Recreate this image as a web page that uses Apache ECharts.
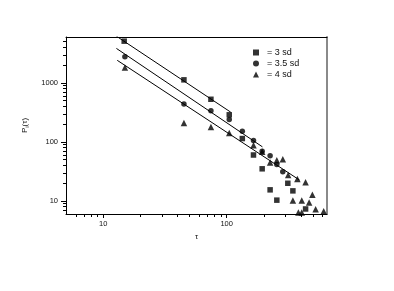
<!DOCTYPE html>
<html><head><meta charset="utf-8">
<script src="https://cdn.jsdelivr.net/npm/echarts@6/dist/echarts.min.js"></script>
<style>html,body{margin:0;padding:0;background:#fff}#c{width:394px;height:291px}</style>
</head><body><div id="c"></div>
<script>
// Axis ticks
const xTickLabels = [10, 100];
const yTickLabels = [10, 100, 1000];
const xMinorTicks = [6, 7, 8, 9, 20, 30, 40, 50, 60, 70, 80, 90, 200, 300, 400, 500, 600];
const yMinorTicks = [7, 8, 9, 20, 30, 40, 50, 60, 70, 80, 90, 200, 300, 400, 500, 600, 700, 800, 900, 2000, 3000, 4000, 5000];
const seriesNames = ['= 3 sd', '= 3.5 sd', '= 4 sd'];

// 3 sd (squares)
const sd3_tau = [14.8, 45.1, 74.6, 105, 134, 165, 194, 225, 255, 313, 344, 436];
const sd3_P   = [5100, 1127, 528, 288, 114, 60, 35, 15.4, 10.3, 19.9, 14.8, 7.3];
// 3.5 sd (circles)
const sd35_tau = [15.0, 45.1, 74.6, 105, 134, 165, 194, 225, 255, 285];
const sd35_P   = [2786, 440, 336, 240, 151, 106, 69.5, 58.2, 41.5, 31.3];
// 4 sd (triangles)
const sd4_tau = [15.0, 45.1, 74.6, 105, 165, 194, 225, 255, 285, 315, 374, 436, 495, 344, 406, 466, 526, 381, 406, 611];
const sd4_P   = [1820, 209, 179, 142, 87.7, 68, 44.9, 49.1, 51, 27.5, 23.5, 20.7, 12.7, 10.2, 10.2, 9.4, 7.2, 6.36, 6.36, 6.65];

// fitted power-law lines (end points)
const fit3_tau = [12.8, 108],  fit3_P = [6200, 319];
const fit35_tau = [12.8, 195], fit35_P = [3846, 82.4];
const fit4_tau = [13.0, 389],  fit4_P = [2415, 22.6];

const X_MIN = 5, X_MAX = 650, Y_MIN = 6, Y_MAX = 6000;

const zip = (a, b) => a.map((v, i) => [v, b[i]]);
const font = 'Liberation Sans, Arial, sans-serif';
const black = '#000';

const chart = echarts.init(document.getElementById('c'), null, {renderer: 'canvas'});
const baseX = {type: 'log', min: X_MIN, max: X_MAX, splitLine: {show: false}};
const baseY = {type: 'log', min: Y_MIN, max: Y_MAX, splitLine: {show: false}};

chart.setOption({
  animation: false,
  backgroundColor: '#fff',
  grid: {left: 66, top: 37, right: 67, bottom: 77, containLabel: false},
  legend: {
    orient: 'vertical', left: 248, top: 43, itemWidth: 6, itemHeight: 6, itemGap: 2,
    data: seriesNames,
    textStyle: {fontSize: 9, fontFamily: font, color: '#111', padding: [0, 0, 0, 3]}
  },
  xAxis: [
    Object.assign({}, baseX, {
      position: 'bottom', name: 'τ', nameLocation: 'middle', nameGap: 17,
      nameTextStyle: {fontSize: 8, fontFamily: font, color: '#111'},
      axisLine: {show: true, lineStyle: {color: black, width: 1}},
      axisTick: {show: true, inside: false, length: 4, customValues: xTickLabels, lineStyle: {color: black}},
      axisLabel: {show: true, customValues: xTickLabels, fontSize: 7.5, fontFamily: font, color: '#111', margin: 6,
        formatter: v => String(Math.round(v))}
    }),
    Object.assign({}, baseX, {
      position: 'bottom',
      axisLine: {show: false},
      axisTick: {show: true, inside: false, length: 3, customValues: xMinorTicks, lineStyle: {color: black}},
      axisLabel: {show: false}
    }),
    Object.assign({}, baseX, {
      position: 'top',
      axisLine: {show: true, lineStyle: {color: black, width: 1}},
      axisTick: {show: false}, axisLabel: {show: false}
    })
  ],
  yAxis: [
    Object.assign({}, baseY, {
      position: 'left',
      name: '{p|P}{s|i}{p|(τ)}', nameLocation: 'middle', nameGap: 33, nameRotate: 90,
      nameTextStyle: {rich: {
        p: {fontSize: 8, fontFamily: font, color: '#111'},
        s: {fontSize: 6, fontFamily: font, color: '#111', padding: [5, 0, 0, 0]}
      }},
      axisLine: {show: true, lineStyle: {color: black, width: 1}},
      axisTick: {show: true, inside: false, length: 5, customValues: yTickLabels, lineStyle: {color: black}},
      axisLabel: {show: true, customValues: yTickLabels, fontSize: 7.5, fontFamily: font, color: '#111', margin: 8,
        formatter: v => String(Math.round(v))}
    }),
    Object.assign({}, baseY, {
      position: 'left',
      axisLine: {show: false},
      axisTick: {show: true, inside: false, length: 3, customValues: yMinorTicks, lineStyle: {color: black}},
      axisLabel: {show: false}
    }),
    Object.assign({}, baseY, {
      position: 'right',
      axisLine: {show: true, lineStyle: {color: '#8a8a8a', width: 2}},
      axisTick: {show: false}, axisLabel: {show: false}
    })
  ],
  series: [
    {name: seriesNames[0], type: 'scatter', symbol: 'rect', symbolSize: 5.5, itemStyle: {color: black}, data: zip(sd3_tau, sd3_P)},
    {name: seriesNames[1], type: 'scatter', symbol: 'circle', symbolSize: 5.5, itemStyle: {color: black}, data: zip(sd35_tau, sd35_P)},
    {name: seriesNames[2], type: 'scatter', symbol: 'triangle', symbolSize: 6.5, itemStyle: {color: black}, data: zip(sd4_tau, sd4_P)},
    {type: 'line', symbol: 'none', silent: true, lineStyle: {color: black, width: 1}, data: zip(fit3_tau, fit3_P)},
    {type: 'line', symbol: 'none', silent: true, lineStyle: {color: black, width: 1}, data: zip(fit35_tau, fit35_P)},
    {type: 'line', symbol: 'none', silent: true, lineStyle: {color: black, width: 1}, data: zip(fit4_tau, fit4_P)}
  ]
});
</script>
</body></html>
